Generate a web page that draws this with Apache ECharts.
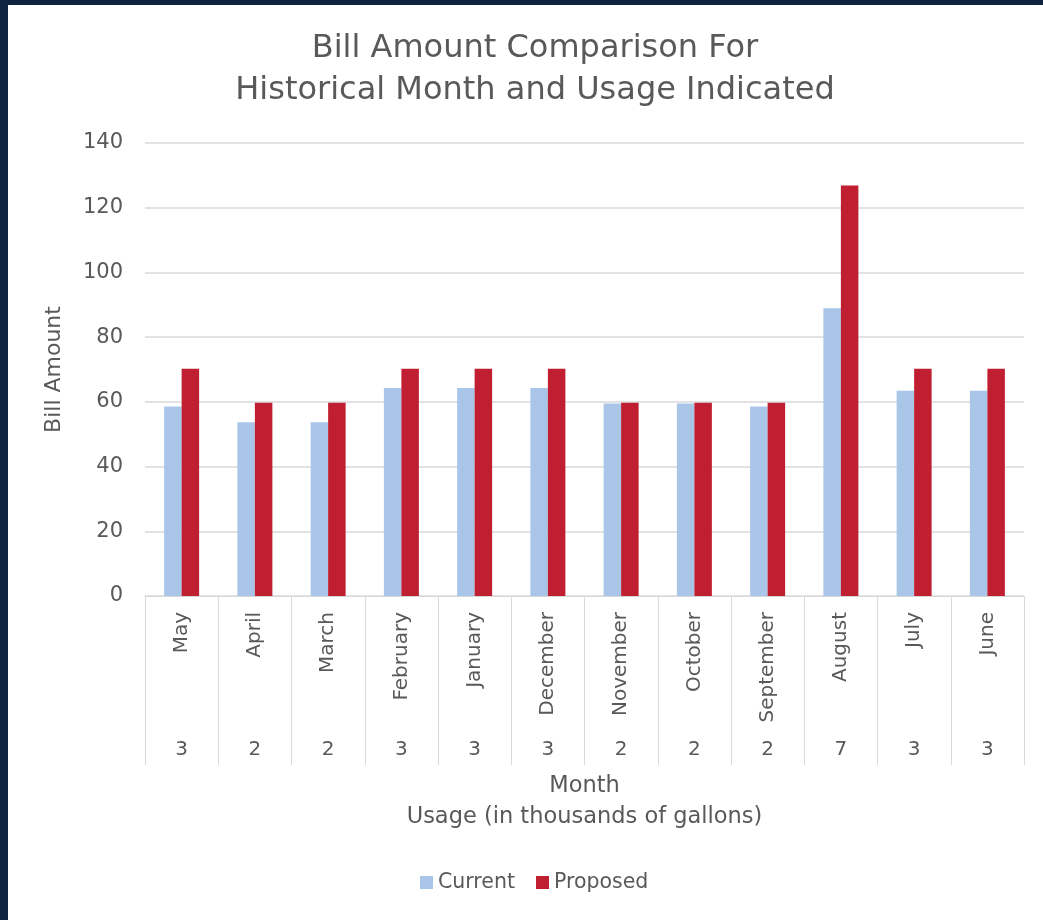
<!DOCTYPE html>
<html>
<head>
<meta charset="utf-8">
<script src="https://cdn.jsdelivr.net/npm/echarts@6/dist/echarts.min.js"></script>
<style>
html,body{margin:0;padding:0;width:1043px;height:920px;background:#0f2440;overflow:hidden;}
#chart{position:absolute;left:8px;top:5px;width:1035px;height:915px;background:#ffffff;}
</style>
</head>
<body>
<div id="chart"></div>
<script>
const months = ['May','April','March','February','January','December','November','October','September','August','July','June'];
const usage = ['3','2','2','3','3','3','2','2','2','7','3','3'];
const currentBill = [58.6, 53.7, 53.7, 64.3, 64.3, 64.3, 59.5, 59.5, 58.6, 88.9, 63.4, 63.4];
const proposedBill = [70.2, 59.7, 59.7, 70.2, 70.2, 70.2, 59.7, 59.7, 59.7, 126.9, 70.2, 70.2];
const yTicks = [0, 20, 40, 60, 80, 100, 120, 140];

const FONT = '"DejaVu Sans", sans-serif';
const TXT = '#595959';
const GRID = '#d9d9d9';

const chart = echarts.init(document.getElementById('chart'), null, {renderer: 'canvas'});
chart.setOption({
  animation: false,
  textStyle: {fontFamily: FONT, color: TXT},
  title: {
    text: 'Bill Amount Comparison For\nHistorical Month and Usage Indicated',
    left: 522,
    textAlign: 'center',
    top: 18,
    textStyle: {fontFamily: FONT, fontSize: 32, fontWeight: 'normal', color: TXT, lineHeight: 42}
  },
  legend: {
    data: ['Current', 'Proposed'],
    left: 412,
    bottom: 27,
    padding: 0,
    icon: 'rect',
    itemWidth: 13,
    itemHeight: 13,
    itemGap: 21,
    textStyle: {fontFamily: FONT, fontSize: 20.5, color: TXT}
  },
  grid: {left: 137, right: 19, top: 138, bottom: 324, containLabel: false},
  xAxis: [
    {
      type: 'category',
      data: months,
      position: 'bottom',
      axisLine: {show: true, lineStyle: {color: GRID, width: 1}},
      axisTick: {show: true, interval: 0, length: 169, lineStyle: {color: GRID, width: 1}},
      axisLabel: {interval: 0, rotate: 90, margin: 16, fontFamily: FONT, fontSize: 20, color: TXT},
      name: 'Month\nUsage (in thousands of gallons)',
      nameLocation: 'middle',
      nameGap: 175,
      nameTextStyle: {fontFamily: FONT, fontSize: 22.5, color: TXT, lineHeight: 31, verticalAlign: 'top'}
    },
    {
      type: 'category',
      data: usage,
      position: 'bottom',
      offset: 144,
      axisLine: {show: false},
      axisTick: {show: false},
      axisLabel: {interval: 0, margin: 0, fontFamily: FONT, fontSize: 20, color: TXT}
    }
  ],
  yAxis: {
    type: 'value',
    min: yTicks[0],
    max: yTicks[yTicks.length - 1],
    interval: 20,
    axisLine: {show: false},
    axisTick: {show: false},
    splitLine: {show: true, lineStyle: {color: GRID, width: 1.5}},
    axisLabel: {margin: 22, fontFamily: FONT, fontSize: 21, color: TXT},
    name: 'Bill Amount',
    nameLocation: 'middle',
    nameGap: 80,
    nameTextStyle: {fontFamily: FONT, fontSize: 22, color: TXT}
  },
  series: [
    {
      name: 'Current',
      type: 'bar',
      xAxisIndex: 0,
      data: currentBill,
      barWidth: 17.5,
      barGap: '0%',
      itemStyle: {color: '#a9c6e9'}
    },
    {
      name: 'Proposed',
      type: 'bar',
      xAxisIndex: 0,
      data: proposedBill,
      barWidth: 17.5,
      barGap: '0%',
      itemStyle: {color: '#c01f32'}
    }
  ]
});
</script>
</body>
</html>
